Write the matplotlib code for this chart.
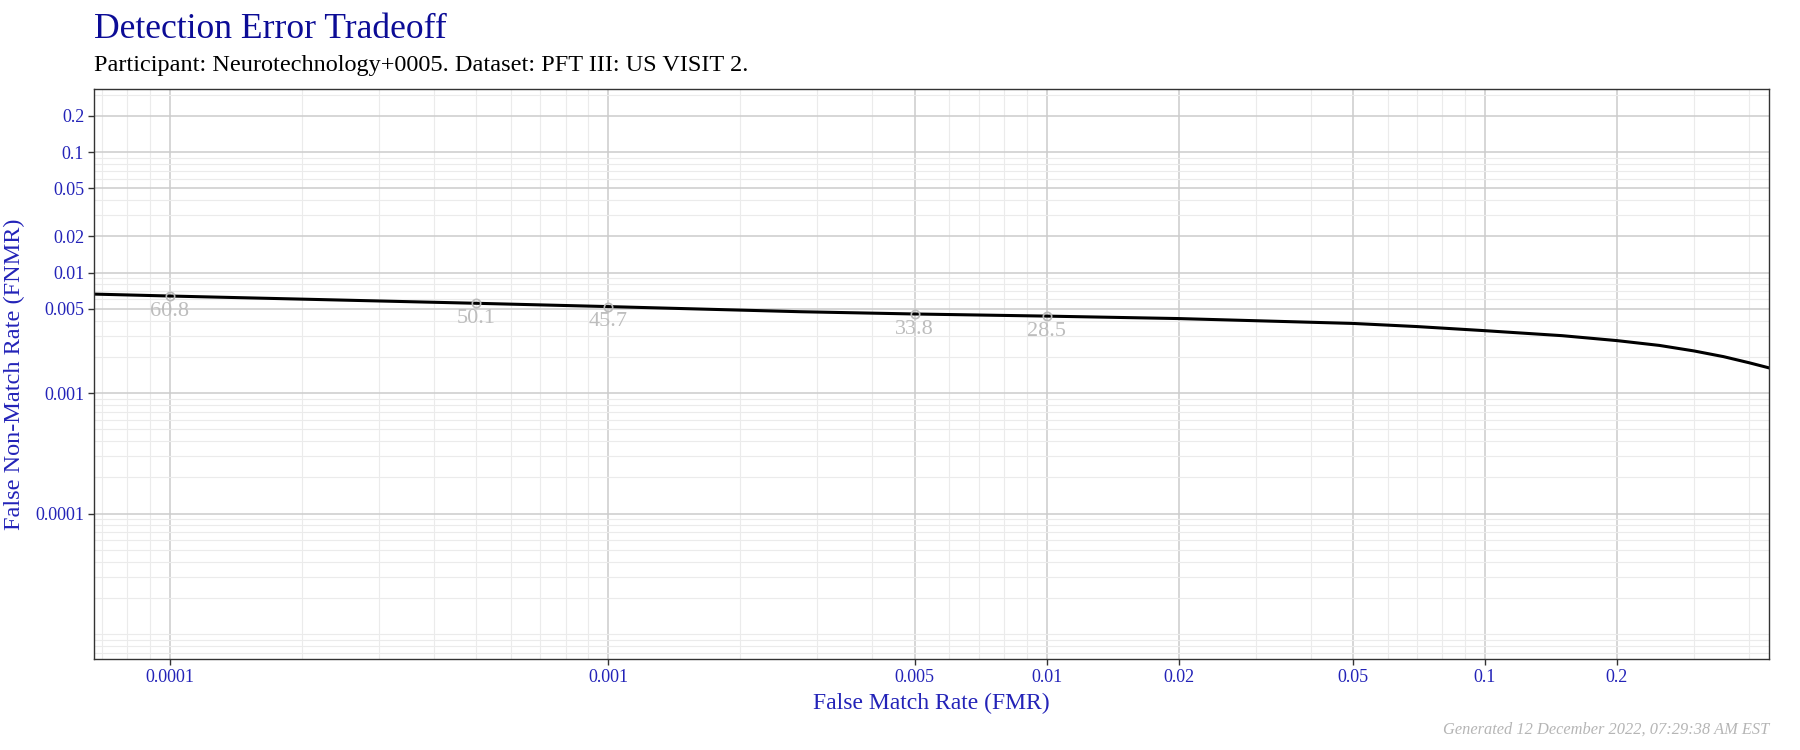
import matplotlib
matplotlib.use('Agg')
import matplotlib.pyplot as plt
import matplotlib.ticker as ticker
import numpy as np

matplotlib.rcParams['font.family'] = ['Liberation Serif', 'DejaVu Serif']

# DET curve
fmr = [6.7e-5, 1e-4, 2e-4, 5e-4, 1e-3, 2.75e-3, 5e-3, 1e-2, 2e-2, 5e-2, 0.07,
       0.1, 0.15, 0.2, 0.25, 0.3, 0.35, 0.4, 0.445]
fnmr = [0.00664, 0.0064, 0.00603, 0.00557, 0.00523, 0.00474, 0.00454, 0.00436,
        0.00416, 0.00379, 0.00357, 0.0033, 0.0030, 0.00273, 0.00249, 0.00224,
        0.00201, 0.00179, 0.00162]

# threshold annotations
thr_fmr = [1e-4, 5e-4, 1e-3, 5e-3, 1e-2]
thr_fnmr = [0.0064, 0.00557, 0.00523, 0.00454, 0.00436]
thr_labels = ['60.8', '50.1', '45.7', '33.8', '28.5']

x_ticks = [0.0001, 0.001, 0.005, 0.01, 0.02, 0.05, 0.1, 0.2]
y_ticks = [0.0001, 0.001, 0.005, 0.01, 0.02, 0.05, 0.1, 0.2]

title_col = '#0c0c96'
tick_col = '#2323b8'

fig = plt.figure(figsize=(18, 7.5), dpi=100)
ax = fig.add_axes([0.0522, 0.1213, 0.9306, 0.7594])

ax.set_xscale('log')
ax.set_yscale('log')
ax.set_xlim(10 ** -4.173, 10 ** -0.352)
ax.set_ylim(10 ** -5.206, 10 ** -0.48)

# grid lines
ax.xaxis.set_major_locator(ticker.FixedLocator(x_ticks))
ax.yaxis.set_major_locator(ticker.FixedLocator(y_ticks))
ax.xaxis.set_major_formatter(ticker.FixedFormatter([str(v) for v in x_ticks]))
ax.yaxis.set_major_formatter(ticker.FixedFormatter([str(v) for v in y_ticks]))
ax.xaxis.set_minor_locator(ticker.LogLocator(base=10, subs=np.arange(1, 10), numticks=30))
ax.yaxis.set_minor_locator(ticker.LogLocator(base=10, subs=np.arange(1, 10), numticks=30))
ax.xaxis.set_minor_formatter(ticker.NullFormatter())
ax.yaxis.set_minor_formatter(ticker.NullFormatter())
ax.grid(True, which='minor', color='#ebebeb', linewidth=0.8)
ax.grid(True, which='major', color='#cccccc', linewidth=1.1)
ax.set_axisbelow(True)

ax.tick_params(which='minor', length=0)
ax.tick_params(which='major', length=4, width=1, color='#333333',
               labelcolor=tick_col, labelsize=13, pad=3)

for s in ax.spines.values():
    s.set_color('#333333')
    s.set_linewidth(1)

ax.plot(fmr, fnmr, color='black', linewidth=2.2, solid_joinstyle='round')

ax.plot(thr_fmr, thr_fnmr, 'o', markersize=6, markerfacecolor='none',
        markeredgecolor='#bbbbbb', markeredgewidth=1.2)
for xv, yv, lab in zip(thr_fmr, thr_fnmr, thr_labels):
    ax.annotate(lab, (xv, yv), xytext=(0, -11), textcoords='offset points',
                ha='center', va='center', color='#bdbdbd', fontsize=16)

ax.set_xlabel('False Match Rate (FMR)', color=tick_col, fontsize=17, labelpad=5)
ax.set_ylabel('False Non-Match Rate (FNMR)', color=tick_col, fontsize=17.5, labelpad=7)

fig.text(0.0522, 0.949, 'Detection Error Tradeoff', color=title_col, fontsize=25.6,
         ha='left', va='baseline')
fig.text(0.0522, 0.905, 'Participant: Neurotechnology+0005. Dataset: PFT III: US VISIT 2.',
         color='black', fontsize=17.5, ha='left', va='baseline')
fig.text(0.9828, 0.022, 'Generated 12 December 2022, 07:29:38 AM EST', color='#b5b5b5',
         fontsize=11.8, style='italic', ha='right', va='baseline')

fig.savefig('out.png', dpi=100, facecolor='white')
